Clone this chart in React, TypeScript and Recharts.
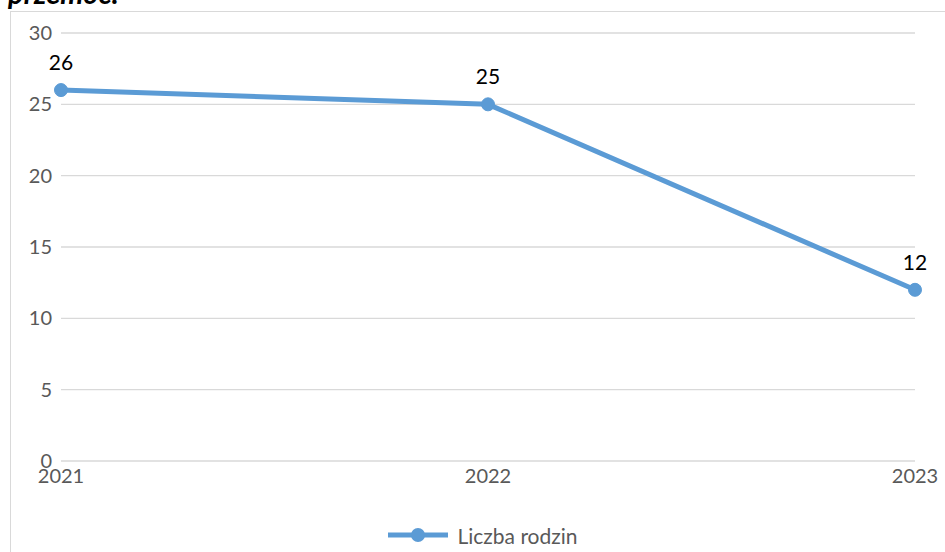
import React from "react";
import { LineChart, Line, XAxis, YAxis, CartesianGrid, Legend, LabelList } from "recharts";

const years = ["2021", "2022", "2023"];
const families = [26, 25, 12];
const yTicks = [0, 5, 10, 15, 20, 25, 30];

const chartData = years.map((year, i) => ({ year, value: families[i] }));

const FONT = "Lato, 'Open Sans', sans-serif";
const BLUE = "#5b9bd5";
const GREY = "#595959";

const LegendContent = () => (
  <div
    style={{
      display: "flex",
      alignItems: "center",
      justifyContent: "center",
      height: 24,
      fontFamily: FONT,
      fontSize: 21,
      color: GREY,
      paddingLeft: 50,
    }}
  >
    <svg width={62} height={18} style={{ marginRight: 8 }}>
      <line x1={1} y1={9} x2={61} y2={9} stroke={BLUE} strokeWidth={5} />
      <circle cx={31} cy={9} r={7} fill={BLUE} />
    </svg>
    <span>Liczba rodzin</span>
  </div>
);

export default function App() {
  return (
    <div
      style={{
        position: "absolute",
        left: 0,
        top: 0,
        width: 945,
        height: 552,
        overflow: "hidden",
        background: "#fff",
      }}
    >
      <div
        style={{
          position: "absolute",
          left: 8,
          top: -22,
          fontFamily: FONT,
          fontStyle: "italic",
          fontWeight: 700,
          fontSize: 29,
          lineHeight: "29px",
          color: "#000",
        }}
      >
        przemoc.
      </div>
      <div
        style={{
          position: "absolute",
          left: 10,
          top: 11,
          width: 960,
          height: 580,
          border: "1.5px solid #d9d9d9",
        }}
      />
      <LineChart
        width={945}
        height={552}
        data={chartData}
        margin={{ top: 33, right: 30, left: 0, bottom: 5 }}
        style={{ position: "absolute", left: 0, top: 0 }}
      >
        <CartesianGrid vertical={false} stroke="#d9d9d9" strokeWidth={1.3} />
        <XAxis
          dataKey="year"
          axisLine={false}
          tickLine={false}
          tickSize={0}
          tickMargin={8}
          height={62}
          tick={{ fill: GREY, fontSize: 20, fontFamily: FONT }}
        />
        <YAxis
          domain={[0, 30]}
          ticks={yTicks}
          width={61}
          axisLine={false}
          tickLine={false}
          tickSize={0}
          tickMargin={9}
          tick={{ fill: GREY, fontSize: 20, fontFamily: FONT }}
        />
        <Legend verticalAlign="bottom" height={24} content={<LegendContent />} />
        <Line
          dataKey="value"
          name="Liczba rodzin"
          stroke={BLUE}
          strokeWidth={5}
          dot={{ r: 6.5, fill: BLUE, stroke: BLUE, strokeWidth: 1 }}
          activeDot={false}
          isAnimationActive={false}
        >
          <LabelList
            dataKey="value"
            position="top"
            offset={20}
            style={{ fill: "#000", fontSize: 21, fontFamily: FONT }}
          />
        </Line>
      </LineChart>
    </div>
  );
}
